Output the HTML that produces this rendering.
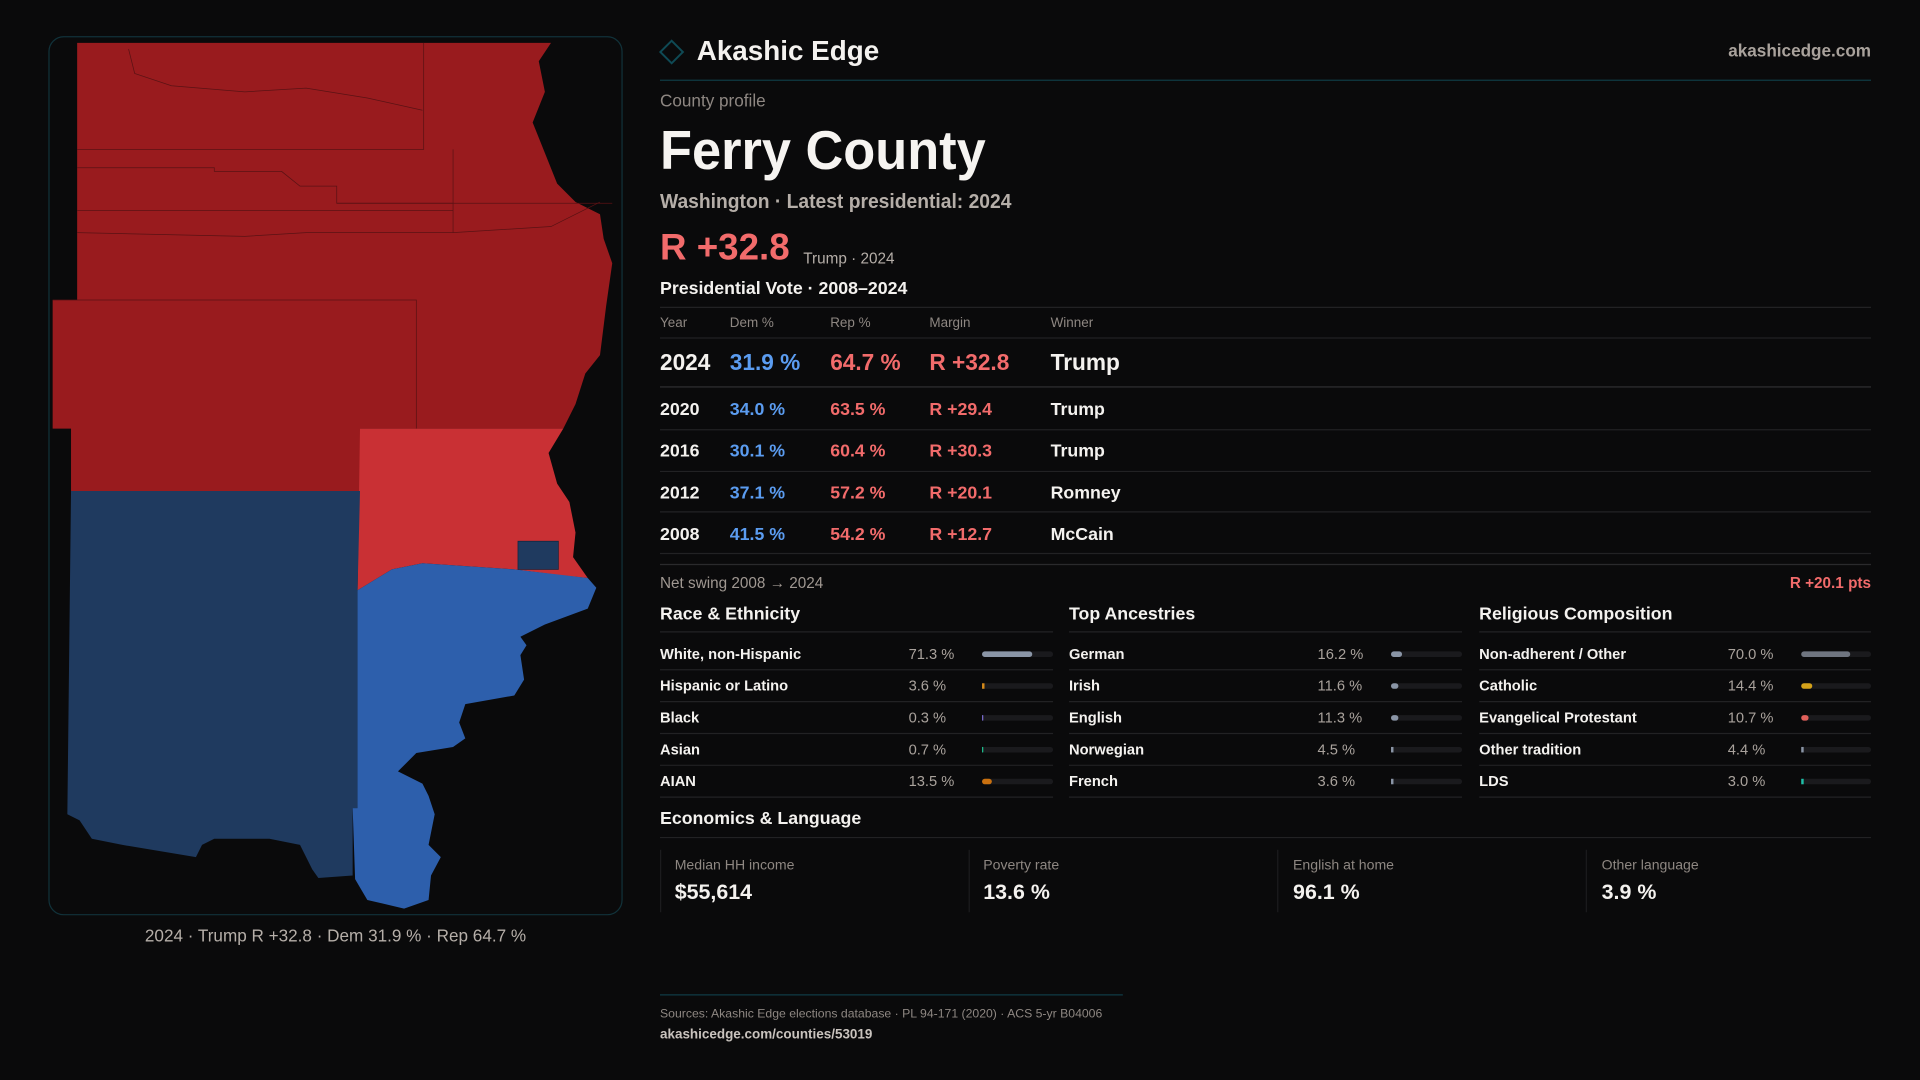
<!DOCTYPE html>
<html><head><meta charset="utf-8"><style>
html,body{margin:0;padding:0;background:#0a0a0b;}
svg{display:block}
text{font-family:"Liberation Sans",sans-serif;}
</style></head><body>
<svg width="1920" height="1080" viewBox="0 0 1568 882" xmlns="http://www.w3.org/2000/svg">
<rect width="1568" height="882" fill="#0a0a0b"/>
<!-- map panel -->
<rect x="40" y="30" width="468" height="717" rx="12" fill="#0a0a0b" stroke="#11323a" stroke-width="1"/>
<polygon fill="#991b1e" points="63,35 450,35 440,50 445,75 435,100 445,125 455,150 470,165 490,175 493,195 500,215 495,250 490,290 478,305 470,330 460,350 294,350 294,401 58,401 58,350 43,350 43,245 63,245"/>
<g stroke="#5a1214" stroke-width="0.6" fill="none">
<polyline points="63,122 260,122"/><polyline points="346,35 346,122 260,122"/>
<polyline points="63,137 175,137 175,140 230,140 245,152 275,152 275,166 370,166"/>
<polyline points="63,172 370,172"/><polyline points="370,122 370,190"/><polyline points="275,166 500,166"/>
<polyline points="43,245 340,245 340,350"/><polyline points="63,190 200,193 250,190 370,190"/>
<polyline points="370,190 450,185 490,165"/>
<polyline points="105,40 110,60 140,70 200,75 250,72 300,80 345,90"/>
</g>
<polygon fill="#c93034" points="294,350 460,350 448,370 455,395 465,410 470,435 468,455 480,472 460,470 420,465 345,460 320,465 292,482"/>
<polygon fill="#1f3a5f" points="58,401 294,401 292,482 292,660 288,660 288,715 260,717 255,710 245,690 220,685 175,685 165,690 160,700 100,690 75,685 65,670 55,665"/>
<polygon fill="#2d5fac" points="292,482 320,465 345,460 420,465 480,472 487,480 480,497 445,510 425,520 430,527 425,535 428,555 420,568 380,575 375,590 380,603 370,610 340,615 325,630 345,640 350,650 355,665 350,690 360,700 352,715 350,735 330,742 300,735 290,718 288,660 292,660"/>
<rect x="423" y="442" width="33" height="23" fill="#1f3a5f" stroke="#14253d" stroke-width="0.6"/>
<text x="274" y="769" text-anchor="middle" font-size="14" fill="#b5aea8">2024 · Trump R +32.8 · Dem 31.9 % · Rep 64.7 %</text>

<!-- header -->
<rect x="542" y="36" width="13" height="13" fill="none" stroke="#0f4a55" stroke-width="1.6" transform="rotate(45 548.5 42.5)"/>
<text x="569" y="49" font-size="23" font-weight="bold" fill="#f4f2ef" textLength="149" lengthAdjust="spacingAndGlyphs">Akashic Edge</text>
<text x="1528" y="46" text-anchor="end" font-size="14" font-weight="bold" fill="#a9a29c">akashicedge.com</text>
<line x1="539" y1="65.5" x2="1528" y2="65.5" stroke="#0f3a44"/>
<text x="539" y="87" font-size="14" fill="#8e8782">County profile</text>
<text x="539" y="138" font-size="45" font-weight="bold" fill="#f6f4f1" textLength="266" lengthAdjust="spacingAndGlyphs">Ferry County</text>
<text x="539" y="170" font-size="16.5" font-weight="bold" fill="#b5aea8" textLength="287" lengthAdjust="spacingAndGlyphs">Washington · Latest presidential: 2024</text>
<text x="539" y="212" font-size="30" font-weight="bold" fill="#f26b6b">R +32.8</text>
<text x="656" y="215" font-size="12.5" fill="#b5aea8">Trump · 2024</text>
<text x="539" y="240" font-size="14.5" font-weight="bold" fill="#f4f2ef">Presidential Vote · 2008–2024</text>
<g stroke="#222224" stroke-width="1">
<line x1="539" y1="251" x2="1528" y2="251"/><line x1="539" y1="276" x2="1528" y2="276"/>
<line x1="539" y1="316" x2="1528" y2="316" stroke="#333335"/>
<line x1="539" y1="351" x2="1528" y2="351"/><line x1="539" y1="385" x2="1528" y2="385"/>
<line x1="539" y1="418" x2="1528" y2="418"/><line x1="539" y1="452" x2="1528" y2="452"/>
<line x1="539" y1="461" x2="1528" y2="461" stroke="#2a2a2c"/>
</g>
<g font-size="11" fill="#8e8782">
<text x="539" y="267">Year</text><text x="596" y="267">Dem %</text><text x="678" y="267">Rep %</text><text x="759" y="267">Margin</text><text x="858" y="267">Winner</text>
</g>
<g font-size="18.5" font-weight="bold">
<text x="539" y="302" fill="#f4f2ef">2024</text><text x="596" y="302" fill="#5b9cf0">31.9 %</text><text x="678" y="302" fill="#f26b6b">64.7 %</text><text x="759" y="302" fill="#f26b6b">R +32.8</text><text x="858" y="302" fill="#f4f2ef">Trump</text>
</g>
<g font-size="14.5" font-weight="bold">
<text x="539" y="339" fill="#f4f2ef">2020</text><text x="596" y="339" fill="#5b9cf0">34.0 %</text><text x="678" y="339" fill="#f26b6b">63.5 %</text><text x="759" y="339" fill="#f26b6b">R +29.4</text><text x="858" y="339" fill="#f4f2ef">Trump</text>
<text x="539" y="373" fill="#f4f2ef">2016</text><text x="596" y="373" fill="#5b9cf0">30.1 %</text><text x="678" y="373" fill="#f26b6b">60.4 %</text><text x="759" y="373" fill="#f26b6b">R +30.3</text><text x="858" y="373" fill="#f4f2ef">Trump</text>
<text x="539" y="407" fill="#f4f2ef">2012</text><text x="596" y="407" fill="#5b9cf0">37.1 %</text><text x="678" y="407" fill="#f26b6b">57.2 %</text><text x="759" y="407" fill="#f26b6b">R +20.1</text><text x="858" y="407" fill="#f4f2ef">Romney</text>
<text x="539" y="441" fill="#f4f2ef">2008</text><text x="596" y="441" fill="#5b9cf0">41.5 %</text><text x="678" y="441" fill="#f26b6b">54.2 %</text><text x="759" y="441" fill="#f26b6b">R +12.7</text><text x="858" y="441" fill="#f4f2ef">McCain</text>
</g>
<text x="539" y="480" font-size="12.5" fill="#a09892">Net swing 2008 → 2024</text>
<text x="1528" y="480" text-anchor="end" font-size="12.5" font-weight="bold" fill="#f26b6b">R +20.1 pts</text>

<g font-size="14.5" font-weight="bold" fill="#f4f2ef">
<text x="539" y="506">Race &amp; Ethnicity</text><text x="873" y="506">Top Ancestries</text><text x="1208" y="506">Religious Composition</text>
</g>
<g stroke="#222224">
<line x1="539" y1="516" x2="860" y2="516"/><line x1="873" y1="516" x2="1194" y2="516"/><line x1="1208" y1="516" x2="1528" y2="516"/>
<line x1="539" y1="547" x2="860" y2="547"/><line x1="873" y1="547" x2="1194" y2="547"/><line x1="1208" y1="547" x2="1528" y2="547"/>
<line x1="539" y1="573" x2="860" y2="573"/><line x1="873" y1="573" x2="1194" y2="573"/><line x1="1208" y1="573" x2="1528" y2="573"/>
<line x1="539" y1="599" x2="860" y2="599"/><line x1="873" y1="599" x2="1194" y2="599"/><line x1="1208" y1="599" x2="1528" y2="599"/>
<line x1="539" y1="625" x2="860" y2="625"/><line x1="873" y1="625" x2="1194" y2="625"/><line x1="1208" y1="625" x2="1528" y2="625"/>
<line x1="539" y1="651" x2="860" y2="651"/><line x1="873" y1="651" x2="1194" y2="651"/><line x1="1208" y1="651" x2="1528" y2="651"/>
</g>
<g font-size="12" font-weight="bold" fill="#f4f2ef">
<text x="539" y="538">White, non-Hispanic</text><text x="539" y="564">Hispanic or Latino</text><text x="539" y="590">Black</text><text x="539" y="616">Asian</text><text x="539" y="642">AIAN</text>
<text x="873" y="538">German</text><text x="873" y="564">Irish</text><text x="873" y="590">English</text><text x="873" y="616">Norwegian</text><text x="873" y="642">French</text>
<text x="1208" y="538">Non-adherent / Other</text><text x="1208" y="564">Catholic</text><text x="1208" y="590">Evangelical Protestant</text><text x="1208" y="616">Other tradition</text><text x="1208" y="642">LDS</text>
</g>
<g font-size="12" fill="#a9a29c">
<text x="742" y="538">71.3 %</text><text x="742" y="564">3.6 %</text><text x="742" y="590">0.3 %</text><text x="742" y="616">0.7 %</text><text x="742" y="642">13.5 %</text>
<text x="1076" y="538">16.2 %</text><text x="1076" y="564">11.6 %</text><text x="1076" y="590">11.3 %</text><text x="1076" y="616">4.5 %</text><text x="1076" y="642">3.6 %</text>
<text x="1411" y="538">70.0 %</text><text x="1411" y="564">14.4 %</text><text x="1411" y="590">10.7 %</text><text x="1411" y="616">4.4 %</text><text x="1411" y="642">3.0 %</text>
</g>
<g fill="#1a1a1d">
<rect x="802" y="532" width="58" height="4.5" rx="2.2"/><rect x="802" y="558" width="58" height="4.5" rx="2.2"/><rect x="802" y="584" width="58" height="4.5" rx="2.2"/><rect x="802" y="610" width="58" height="4.5" rx="2.2"/><rect x="802" y="636" width="58" height="4.5" rx="2.2"/>
<rect x="1136" y="532" width="58" height="4.5" rx="2.2"/><rect x="1136" y="558" width="58" height="4.5" rx="2.2"/><rect x="1136" y="584" width="58" height="4.5" rx="2.2"/><rect x="1136" y="610" width="58" height="4.5" rx="2.2"/><rect x="1136" y="636" width="58" height="4.5" rx="2.2"/>
<rect x="1471" y="532" width="57" height="4.5" rx="2.2"/><rect x="1471" y="558" width="57" height="4.5" rx="2.2"/><rect x="1471" y="584" width="57" height="4.5" rx="2.2"/><rect x="1471" y="610" width="57" height="4.5" rx="2.2"/><rect x="1471" y="636" width="57" height="4.5" rx="2.2"/>
</g>
<rect x="802" y="532" width="41" height="4.5" rx="2.2" fill="#8a95a6"/>
<rect x="802" y="558" width="2" height="4.5" fill="#d58a1a"/>
<rect x="802" y="584" width="1" height="4.5" fill="#7a6bd0"/>
<rect x="802" y="610" width="1" height="4.5" fill="#1fbf8f"/>
<rect x="802" y="636" width="8" height="4.5" rx="2.2" fill="#c9700f"/>
<rect x="1136" y="532" width="9" height="4.5" rx="2.2" fill="#8a95a6"/>
<rect x="1136" y="558" width="6" height="4.5" rx="2.2" fill="#8a95a6"/>
<rect x="1136" y="584" width="6" height="4.5" rx="2.2" fill="#8a95a6"/>
<rect x="1136" y="610" width="2" height="4.5" fill="#8a95a6"/>
<rect x="1136" y="636" width="2" height="4.5" fill="#8a95a6"/>
<rect x="1471" y="532" width="40" height="4.5" rx="2.2" fill="#6f7580"/>
<rect x="1471" y="558" width="9" height="4.5" rx="2.2" fill="#d4a21a"/>
<rect x="1471" y="584" width="6" height="4.5" rx="2.2" fill="#e0605a"/>
<rect x="1471" y="610" width="2" height="4.5" fill="#8a95a6"/>
<rect x="1471" y="636" width="2" height="4.5" fill="#1fbfa8"/>

<text x="539" y="673" font-size="14.5" font-weight="bold" fill="#f4f2ef">Economics &amp; Language</text>
<line x1="539" y1="684" x2="1528" y2="684" stroke="#222224"/>
<g stroke="#1c1c1e">
<line x1="539.5" y1="694" x2="539.5" y2="745"/><line x1="791.5" y1="694" x2="791.5" y2="745"/><line x1="1043.5" y1="694" x2="1043.5" y2="745"/><line x1="1295.5" y1="694" x2="1295.5" y2="745"/>
</g>
<g font-size="11.5" fill="#8e8782">
<text x="551" y="710">Median HH income</text><text x="803" y="710">Poverty rate</text><text x="1056" y="710">English at home</text><text x="1308" y="710">Other language</text>
</g>
<g font-size="17.5" font-weight="bold" fill="#f4f2ef">
<text x="551" y="734">$55,614</text><text x="803" y="734">13.6 %</text><text x="1056" y="734">96.1 %</text><text x="1308" y="734">3.9 %</text>
</g>
<line x1="539" y1="812.5" x2="917" y2="812.5" stroke="#0f3a44"/>
<text x="539" y="831" font-size="10" fill="#8e8782">Sources: Akashic Edge elections database · PL 94-171 (2020) · ACS 5-yr B04006</text>
<text x="539" y="848" font-size="11" font-weight="bold" fill="#c9c3be">akashicedge.com/counties/53019</text>
</svg>
</body></html>
